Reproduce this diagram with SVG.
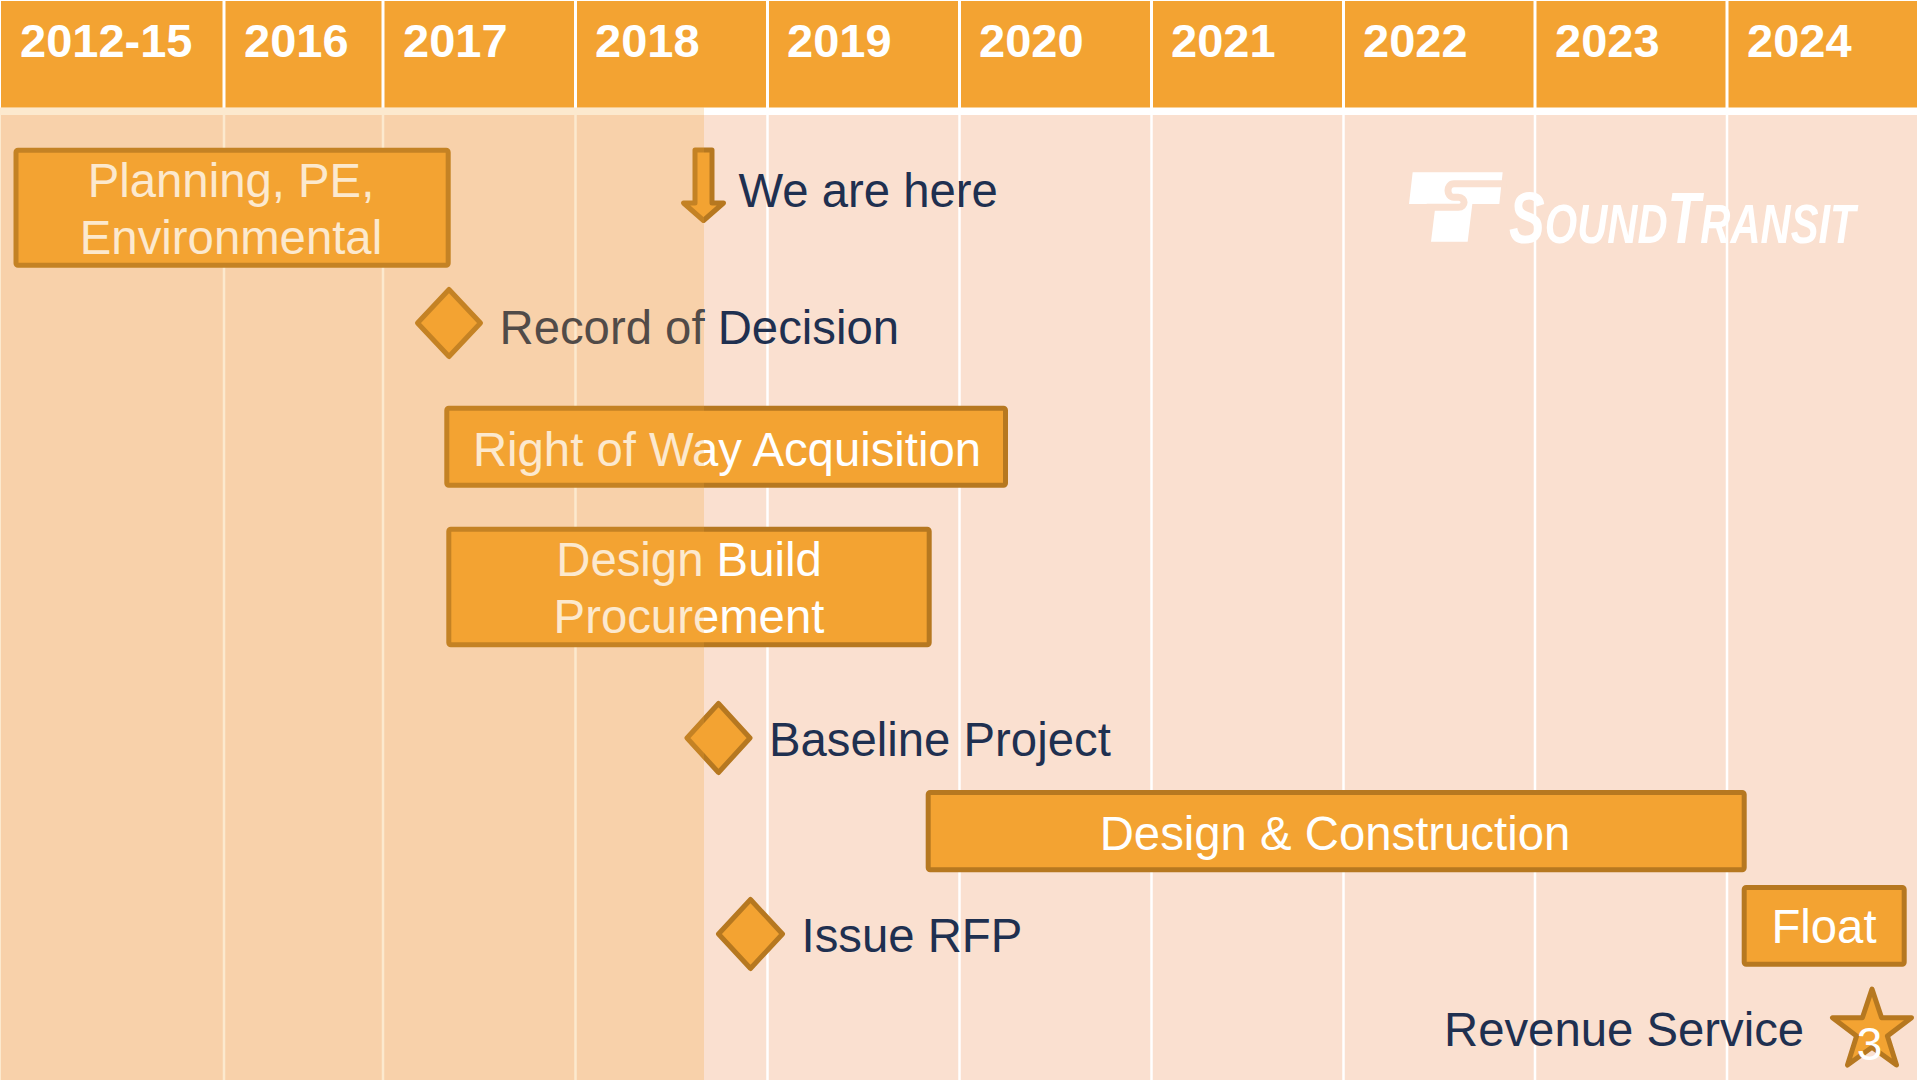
<svg xmlns="http://www.w3.org/2000/svg" width="1920" height="1080" viewBox="0 0 1920 1080">
  <defs>
    <style>
      .hdr { fill: #F3A332; }
      .yr { font-family: "Liberation Sans", Arial, sans-serif; font-weight: bold; font-size: 47px; fill: #FFFFFF; }
      .hsep { stroke: #FFFFFF; stroke-width: 3; }
      .bsep { stroke: #FFFFFF; stroke-width: 2.5; }
      .bar { fill: #F3A332; stroke: #B67820; stroke-width: 5; stroke-linejoin: round; }
      .ms { fill: #F3A332; stroke: #B67820; stroke-width: 5; stroke-linejoin: round; }
      .in { font-family: "Liberation Sans", Arial, sans-serif; font-size: 47.3px; fill: #FFFFFF; text-anchor: middle; }
      .lbl { font-family: "Liberation Sans", Arial, sans-serif; font-size: 47.3px; fill: #1F3050; }
      .logo { fill: #FFFFFF; }
      .logotxt { font-family: "Liberation Sans", Arial, sans-serif; font-weight: bold; font-style: italic; fill: #FFFFFF; }
    </style>
  </defs>

  <rect x="0" y="0" width="1920" height="1080" fill="#FFFFFF"/>

  <!-- header -->
  <g id="header">
    <rect class="hdr" x="1" y="1" width="1916" height="106.5"/>
    <g>
      <line class="hsep" x1="224" y1="0" x2="224" y2="108"/>
      <line class="hsep" x1="383" y1="0" x2="383" y2="108"/>
      <line class="hsep" x1="575.5" y1="0" x2="575.5" y2="108"/>
      <line class="hsep" x1="767.5" y1="0" x2="767.5" y2="108"/>
      <line class="hsep" x1="959.5" y1="0" x2="959.5" y2="108"/>
      <line class="hsep" x1="1151.5" y1="0" x2="1151.5" y2="108"/>
      <line class="hsep" x1="1343.5" y1="0" x2="1343.5" y2="108"/>
      <line class="hsep" x1="1535" y1="0" x2="1535" y2="108"/>
      <line class="hsep" x1="1727" y1="0" x2="1727" y2="108"/>
    </g>
    <text class="yr" x="20" y="57">2012-15</text>
    <text class="yr" x="244" y="57">2016</text>
    <text class="yr" x="403" y="57">2017</text>
    <text class="yr" x="595" y="57">2018</text>
    <text class="yr" x="787" y="57">2019</text>
    <text class="yr" x="979" y="57">2020</text>
    <text class="yr" x="1171" y="57">2021</text>
    <text class="yr" x="1363" y="57">2022</text>
    <text class="yr" x="1555" y="57">2023</text>
    <text class="yr" x="1747" y="57">2024</text>
  </g>

  <!-- body background -->
  <g id="body-grid">
    <rect x="1" y="115" width="1916" height="965" fill="#FAE0D0"/>
    <line class="bsep" x1="224" y1="115" x2="224" y2="1080"/>
    <line class="bsep" x1="383" y1="115" x2="383" y2="1080"/>
    <line class="bsep" x1="575.5" y1="115" x2="575.5" y2="1080"/>
    <line class="bsep" x1="767.5" y1="115" x2="767.5" y2="1080"/>
    <line class="bsep" x1="959.5" y1="115" x2="959.5" y2="1080"/>
    <line class="bsep" x1="1151.5" y1="115" x2="1151.5" y2="1080"/>
    <line class="bsep" x1="1343.5" y1="115" x2="1343.5" y2="1080"/>
    <line class="bsep" x1="1535" y1="115" x2="1535" y2="1080"/>
    <line class="bsep" x1="1727" y1="115" x2="1727" y2="1080"/>
  </g>

  <!-- Sound Transit logo -->
  <g id="logo">
    <g transform="translate(1390,150) scale(0.33333)">
      <path class="logo" d="M68,67 L338,67 L328,162 L247,162 L233,275 L123,275 L137,162 L57,162 Z"/>
      <path d="M350,101 L192,101 C168,101 168,142 192,142 L205,142 C228,142 228,172 205,172 L110,172" fill="none" stroke="#FAE0D0" stroke-width="21"/>
    </g>
    <text class="logotxt" transform="translate(1509,243) scale(0.745,1)" x="0" y="0"><tspan font-size="72">S</tspan><tspan font-size="56">OUND</tspan><tspan font-size="72">T</tspan><tspan font-size="56">RANSIT</tspan></text>
  </g>

  <!-- We are here -->
  <g id="we-are-here">
    <polygon class="ms" points="695,150 712,150 712,203 723.5,203 703.5,220.5 683.5,203 695,203" stroke-linejoin="miter"/>
    <text class="lbl" x="738.5" y="207.3">We are here</text>
  </g>

  <!-- Planning -->
  <g id="planning">
    <rect class="bar" x="16" y="150.2" width="432.2" height="115" rx="2"/>
    <text class="in" x="231" y="197.3">Planning, PE,</text>
    <text class="in" x="231" y="254">Environmental</text>
  </g>

  <!-- Record of Decision -->
  <g id="record-of-decision">
    <polygon class="ms" points="449,289.5 480.5,323 449,356.5 417.5,323"/>
    <text class="lbl" x="499.5" y="344.3">Record of Decision</text>
  </g>

  <!-- Right of Way -->
  <g id="right-of-way">
    <rect class="bar" x="446.8" y="408.2" width="558.7" height="77" rx="2"/>
    <text class="in" x="727" y="466">Right of Way Acquisition</text>
  </g>

  <!-- Design Build Procurement -->
  <g id="design-build-procurement">
    <rect class="bar" x="448.8" y="529.2" width="480.4" height="115.6" rx="2"/>
    <text class="in" x="689" y="576">Design Build</text>
    <text class="in" x="689" y="633.3">Procurement</text>
  </g>

  <!-- Baseline Project -->
  <g id="baseline-project">
    <polygon class="ms" points="718.5,703.5 750,738 718.5,772.5 687,738"/>
    <text class="lbl" x="769" y="756">Baseline Project</text>
  </g>

  <!-- Design & Construction -->
  <g id="design-construction">
    <rect class="bar" x="928.2" y="792.5" width="816" height="77.3" rx="2"/>
    <text class="in" x="1335" y="850">Design &amp; Construction</text>
  </g>

  <!-- Issue RFP -->
  <g id="issue-rfp">
    <polygon class="ms" points="750.5,899.5 782.5,934 750.5,968.5 718.5,934"/>
    <text class="lbl" x="801.5" y="951.7">Issue RFP</text>
  </g>

  <!-- Float -->
  <g id="float">
    <rect class="bar" x="1744.2" y="887.5" width="160" height="76.7" rx="2"/>
    <text class="in" x="1824" y="943">Float</text>
  </g>

  <!-- Revenue Service -->
  <g id="revenue-service">
    <text class="lbl" x="1444" y="1046">Revenue Service</text>
    <polygon class="ms" points="1872,989 1881.6,1017.7 1911.5,1017.7 1887.4,1036 1896.5,1065 1872,1047.2 1847.5,1065 1856.6,1036 1832.5,1017.7 1862.4,1017.7"/>
    <text x="1869.5" y="1060" font-family="Liberation Sans, Arial, sans-serif" font-size="46" fill="#FFFFFF" text-anchor="middle">3</text>
  </g>

  <!-- elapsed period tint -->
  <rect id="elapsed-overlay" x="0" y="107.5" width="704" height="972.5" fill="#F3A332" fill-opacity="0.24"/>
</svg>
